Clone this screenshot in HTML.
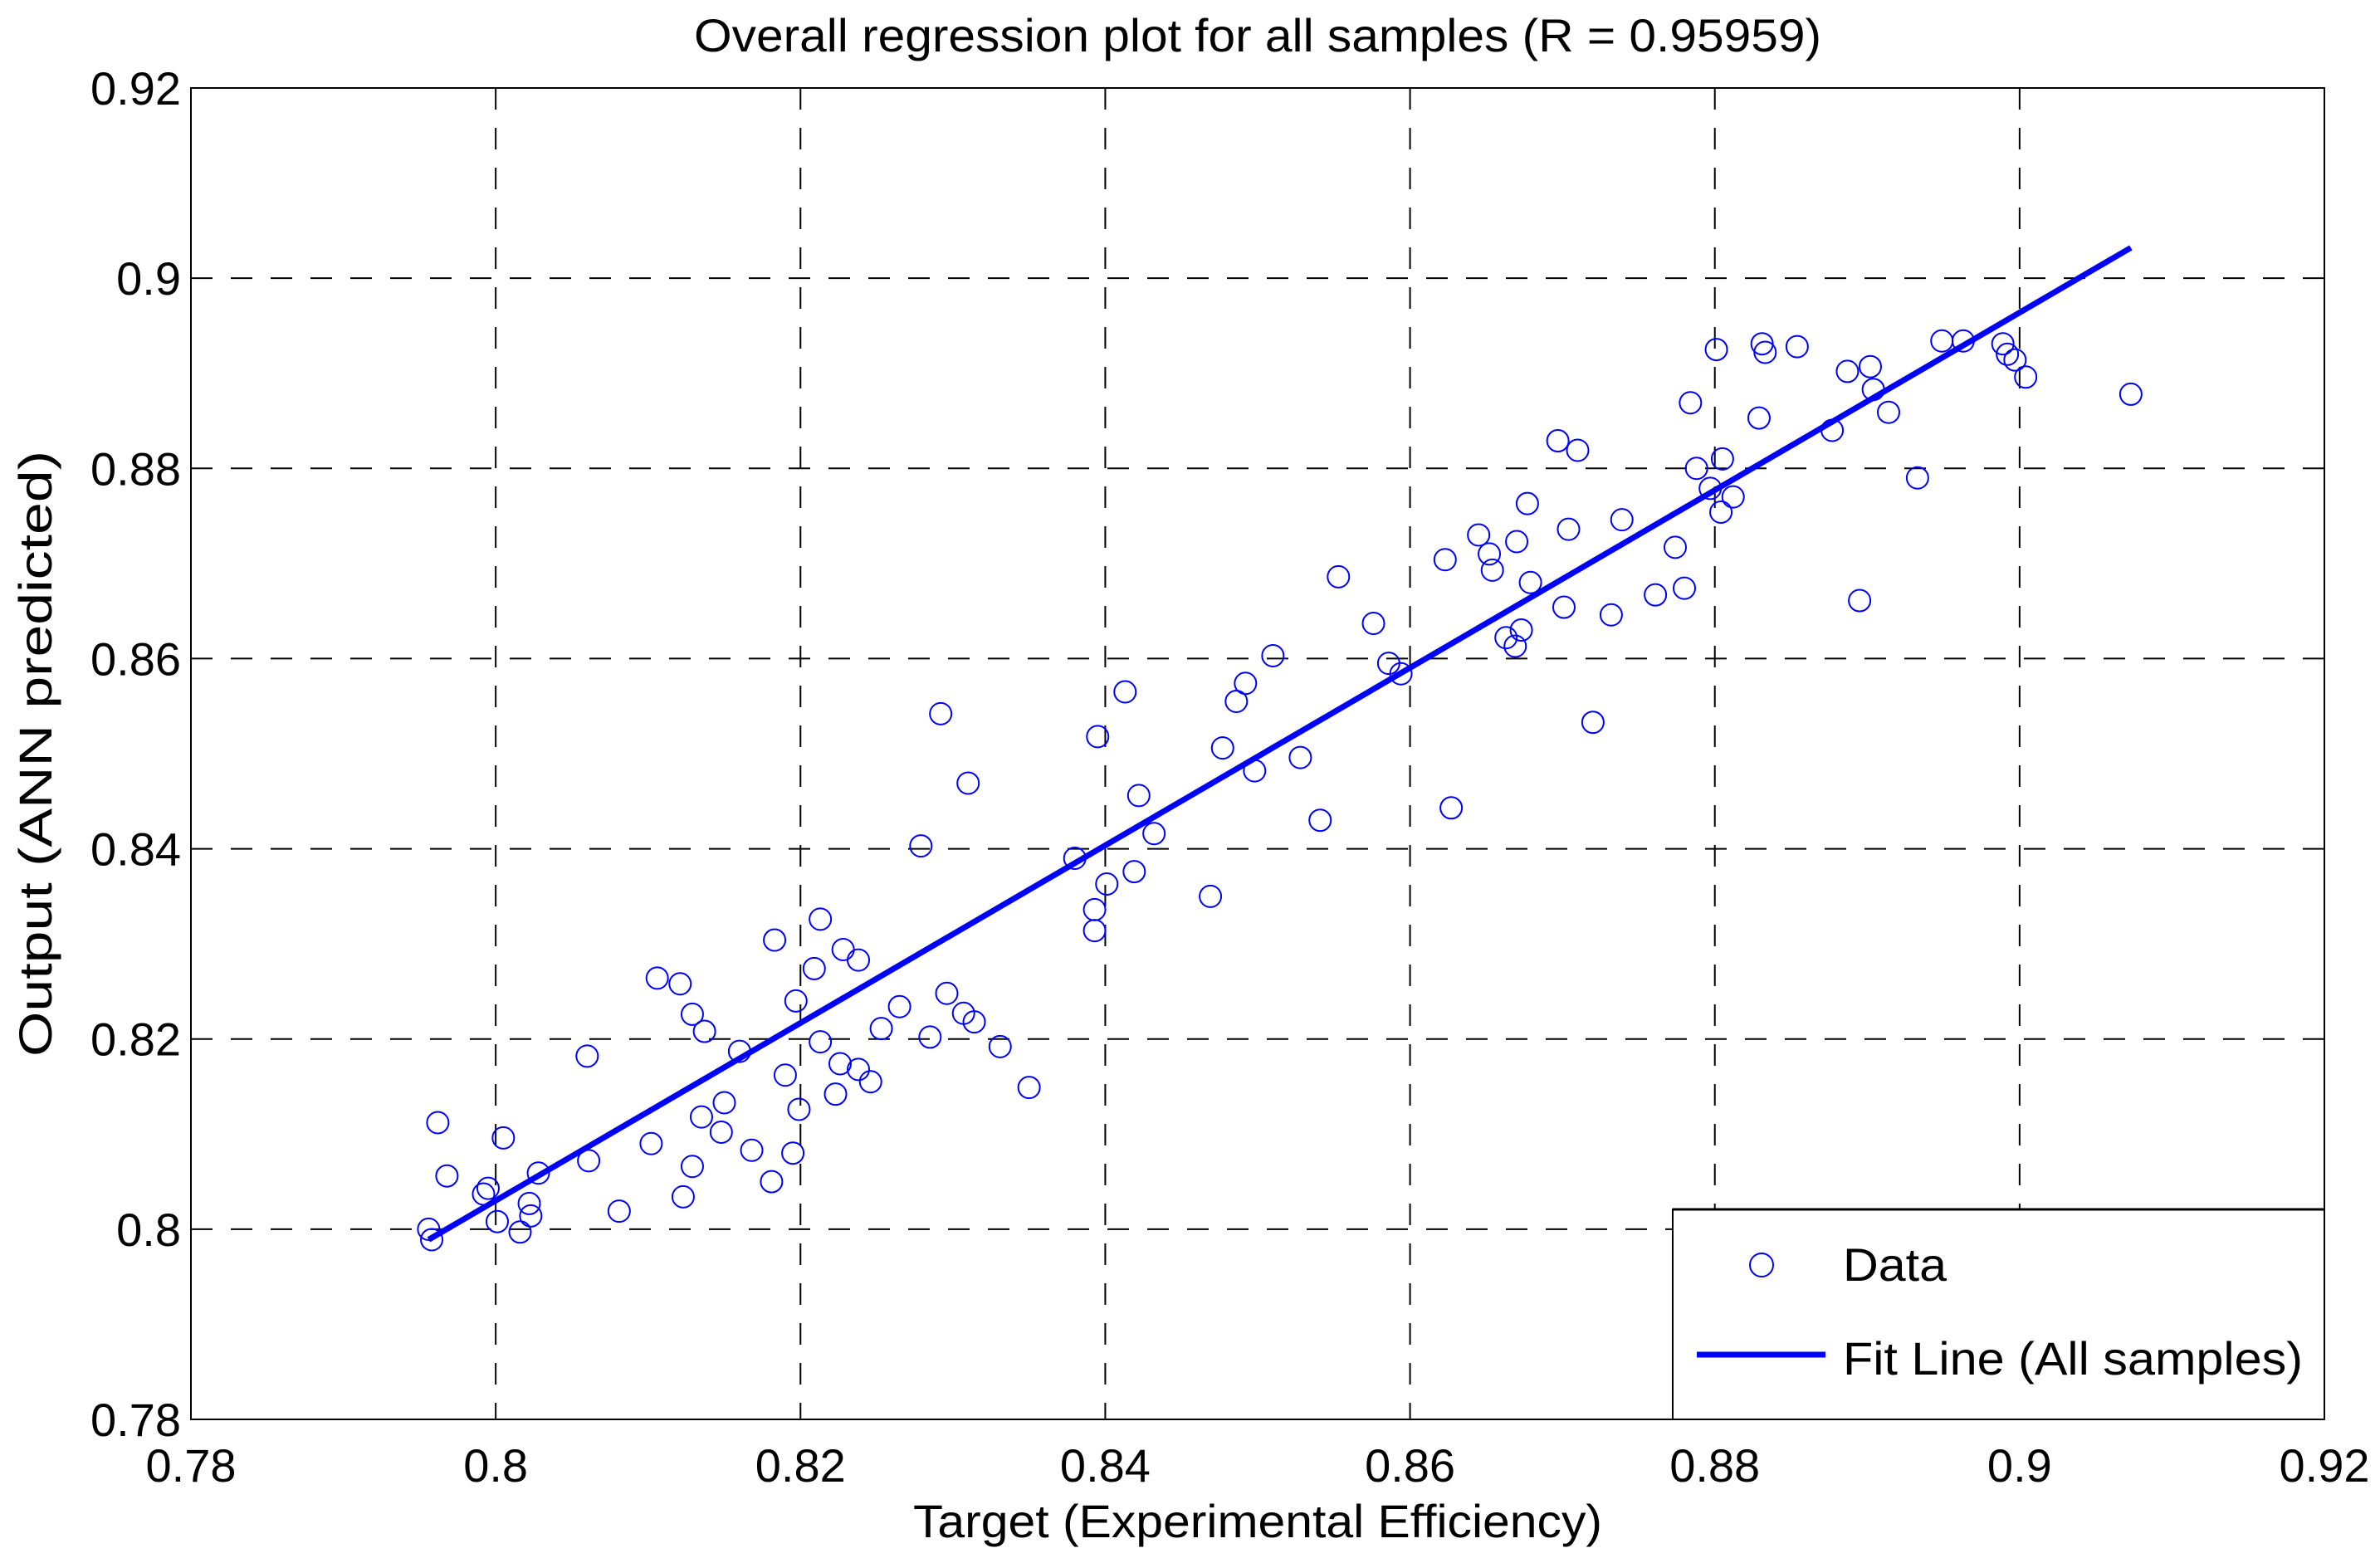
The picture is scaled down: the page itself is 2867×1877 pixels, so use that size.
<!DOCTYPE html>
<html><head><meta charset="utf-8"><style>
html,body{margin:0;padding:0;background:#fff;}
svg{display:block;font-family:"Liberation Sans",Arial,sans-serif;}
</style></head><body>
<svg id="chart" width="2867" height="1877" viewBox="0 0 2867 1877" xmlns="http://www.w3.org/2000/svg">
<rect width="2867" height="1877" fill="#fff"/>
<g id="grid"></g>
<g id="ticks"></g>
<g id="marks"></g>
<g id="fit"></g>
<rect x="230" y="106" width="2570" height="1604" fill="none" stroke="#000" stroke-width="2"/>
<text x="1515" y="62" font-size="56" text-anchor="middle" textLength="1358" lengthAdjust="spacingAndGlyphs">Overall regression plot for all samples (R = 0.95959)</text>
<text x="1515" y="1852" font-size="56" text-anchor="middle" textLength="830" lengthAdjust="spacingAndGlyphs">Target (Experimental Efficiency)</text>
<text transform="translate(62,908) rotate(-90)" font-size="56" text-anchor="middle" textLength="730" lengthAdjust="spacingAndGlyphs">Output (ANN predicted)</text>
<g>
<rect x="2015" y="1457" width="785" height="253" fill="#fff" stroke="#000" stroke-width="2"/>
<line x1="2015" y1="1457" x2="2800" y2="1457" stroke="#000" stroke-width="3"/>
<circle cx="2122" cy="1524" r="14" fill="none" stroke="#0000ff" stroke-width="2"/>
<text x="2220" y="1543" font-size="56" textLength="125" lengthAdjust="spacingAndGlyphs">Data</text>
<line x1="2044" y1="1632" x2="2199" y2="1632" stroke="#0000ff" stroke-width="7"/>
<text x="2220" y="1656" font-size="56" textLength="554" lengthAdjust="spacingAndGlyphs">Fit Line (All samples)</text>
</g>
</svg>
<script>
const xTicks=[0.78,0.8,0.82,0.84,0.86,0.88,0.9,0.92];
const yTicks=[0.78,0.8,0.82,0.84,0.86,0.88,0.9,0.92];
const xTickLabels=["0.78","0.8","0.82","0.84","0.86","0.88","0.9","0.92"];
const yTickLabels=["0.78","0.8","0.82","0.84","0.86","0.88","0.9","0.92"];
const targetX=[0.7956,0.7958,0.7962,0.7968,0.7992,0.7995,0.8001,0.8005,0.8016,0.8022,0.8023,0.8028,0.806,0.8061,0.8081,0.8102,0.8106,0.8121,0.8123,0.8129,0.8129,0.8135,0.8137,0.8148,0.815,0.816,0.8168,0.8181,0.8183,0.819,0.8195,0.8197,0.8199,0.8209,0.8213,0.8213,0.8223,0.8226,0.8228,0.8238,0.8238,0.8246,0.8253,0.8265,0.8279,0.8285,0.8292,0.8296,0.8307,0.831,0.8314,0.8331,0.835,0.838,0.8393,0.8393,0.8395,0.8401,0.8413,0.8419,0.8422,0.8432,0.8469,0.8477,0.8486,0.8492,0.8498,0.851,0.8528,0.8541,0.8553,0.8576,0.8586,0.8594,0.8623,0.8627,0.8645,0.8652,0.8654,0.8663,0.8669,0.867,0.8673,0.8677,0.8679,0.8697,0.8701,0.8704,0.871,0.872,0.8732,0.8739,0.8761,0.8774,0.878,0.8784,0.8788,0.8797,0.8801,0.8804,0.8805,0.8812,0.8829,0.8831,0.8833,0.8854,0.8877,0.8887,0.8895,0.8902,0.8904,0.8914,0.8933,0.8949,0.8963,0.8989,0.8992,0.8997,0.9004,0.9073];
const outputY=[0.800,0.7989,0.8112,0.8056,0.8037,0.8043,0.8008,0.8096,0.7997,0.8027,0.8014,0.8059,0.8182,0.8072,0.8019,0.809,0.8264,0.8258,0.8034,0.8066,0.8226,0.8118,0.8208,0.8102,0.8133,0.8187,0.8083,0.805,0.8304,0.8162,0.808,0.824,0.8126,0.8274,0.8326,0.8197,0.8142,0.8174,0.8294,0.8283,0.8168,0.8155,0.8211,0.8234,0.8403,0.8202,0.8542,0.8248,0.8227,0.8469,0.8218,0.8192,0.8149,0.839,0.8336,0.8314,0.8518,0.8363,0.8565,0.8376,0.8456,0.8416,0.835,0.8506,0.8555,0.8574,0.8482,0.8603,0.8496,0.843,0.8686,0.8637,0.8595,0.8584,0.8704,0.8443,0.873,0.871,0.8693,0.8622,0.8613,0.8723,0.863,0.8763,0.868,0.8829,0.8654,0.8736,0.8819,0.8533,0.8646,0.8746,0.8667,0.8717,0.8674,0.8869,0.88,0.8779,0.8925,0.8754,0.881,0.877,0.8853,0.8931,0.8922,0.8928,0.884,0.8902,0.8661,0.8907,0.8883,0.8859,0.879,0.8934,0.8934,0.8931,0.892,0.8914,0.8896,0.8878];
const fitX=[0.7956,0.9073];
const fitY=[0.7989,0.9032];

const L=230,R=2800,T=106,B=1710;
const sx=v=>L+(v-0.78)/0.14*(R-L);
const sy=v=>B-(v-0.78)/0.14*(B-T);
const NS="http://www.w3.org/2000/svg";
function mk(tag,attrs,parent){const e=document.createElementNS(NS,tag);for(const k in attrs)e.setAttribute(k,attrs[k]);parent.appendChild(e);return e;}
const grid=document.getElementById('grid'),ticks=document.getElementById('ticks'),marks=document.getElementById('marks'),fit=document.getElementById('fit');
xTicks.forEach((v,i)=>{
  const x=sx(v);
  if(i>0&&i<xTicks.length-1){
    const g=mk('line',{x1:x,y1:T,x2:x,y2:B,stroke:'#000','stroke-width':2,'stroke-dasharray':'26 22'},grid);
    
    
  }
  const t=mk('text',{x:x,y:B+75,'font-size':56,'text-anchor':'middle'},ticks);
  t.textContent=xTickLabels[i];
  
  
});
yTicks.forEach((v,i)=>{
  const y=sy(v);
  if(i>0&&i<yTicks.length-1){
    const g=mk('line',{x1:L,y1:y,x2:R,y2:y,stroke:'#000','stroke-width':2,'stroke-dasharray':'26 22'},grid);
    
    
  }
  const t=mk('text',{x:L-12,y:y+20,'font-size':56,'text-anchor':'end'},ticks);
  t.textContent=yTickLabels[i];
  
  
});
targetX.forEach((v,i)=>{
  const c=mk('circle',{cx:sx(v),cy:sy(outputY[i]),r:13,fill:'none',stroke:'#0000ff','stroke-width':2},marks);
  
  
});
const fl=mk('line',{x1:sx(fitX[0]),y1:sy(fitY[0]),x2:sx(fitX[1]),y2:sy(fitY[1]),stroke:'#0000ff','stroke-width':7},fit);


</script>
</body></html>
